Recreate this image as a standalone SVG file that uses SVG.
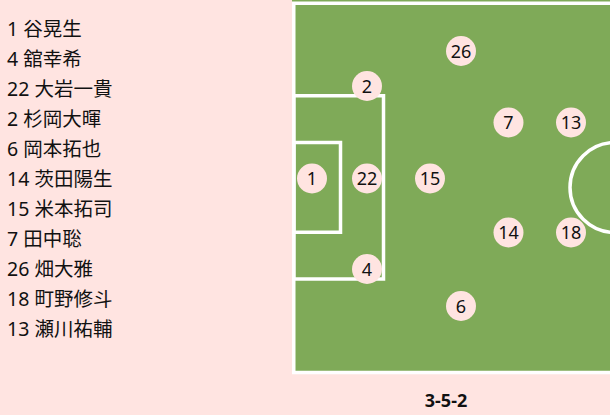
<svg xmlns="http://www.w3.org/2000/svg" width="610" height="415" viewBox="0 0 610 415">
<style>
.bg{fill:#ffe4e1}
.pitch{fill:#7faa58}
.line{fill:none;stroke:#ffffff;stroke-width:3.5}
.lst{font-family:"Noto Sans","Noto Sans CJK JP",sans-serif;font-size:19.5px;fill:#111}
.p circle{fill:#ffe4e1}
.p text{font-family:"Noto Sans","Noto Sans CJK JP",sans-serif;font-size:18px;fill:#111;text-anchor:middle}
.title{font-family:"Noto Sans","Noto Sans CJK JP",sans-serif;font-size:18px;font-weight:bold;fill:#111;text-anchor:middle}
</style>
<rect class="bg" x="0" y="0" width="610" height="415"/>
<g id="list">
<text class="lst" x="7" y="36">1 谷晃生</text>
<text class="lst" x="7" y="66">4 舘幸希</text>
<text class="lst" x="7" y="96">22 大岩一貴</text>
<text class="lst" x="7" y="126">2 杉岡大暉</text>
<text class="lst" x="7" y="156">6 岡本拓也</text>
<text class="lst" x="7" y="186">14 茨田陽生</text>
<text class="lst" x="7" y="216">15 米本拓司</text>
<text class="lst" x="7" y="246">7 田中聡</text>
<text class="lst" x="7" y="276">26 畑大雅</text>
<text class="lst" x="7" y="306">18 町野修斗</text>
<text class="lst" x="7" y="336">13 瀬川祐輔</text>
</g>
<g id="pitch">
<rect class="pitch" x="292" y="0" width="330" height="374"/>
<rect class="line" x="293.75" y="3.25" width="340" height="369.25"/>
<rect class="line" x="293.75" y="95.75" width="89.75" height="183.25"/>
<rect class="line" x="293.75" y="142.5" width="46.75" height="89.75"/>
<circle class="line" cx="615" cy="187.5" r="45"/>
</g>
<g id="connectors"></g>
<g id="p1" class="p"><circle cx="312" cy="178.5" r="15"/><text x="312" y="185">1</text></g>
<g id="p22" class="p"><circle cx="367" cy="178.5" r="15"/><text x="367" y="185">22</text></g>
<g id="p15" class="p"><circle cx="430" cy="178.5" r="15"/><text x="430" y="185">15</text></g>
<g id="p2" class="p"><circle cx="367" cy="86" r="15"/><text x="367" y="92.5">2</text></g>
<g id="p4" class="p"><circle cx="367" cy="269" r="15"/><text x="367" y="275.5">4</text></g>
<g id="p26" class="p"><circle cx="461" cy="51" r="15"/><text x="461" y="57.5">26</text></g>
<g id="p6" class="p"><circle cx="461" cy="306" r="15"/><text x="461" y="312.5">6</text></g>
<g id="p7" class="p"><circle cx="508.5" cy="122.5" r="15"/><text x="508.5" y="129">7</text></g>
<g id="p13" class="p"><circle cx="571" cy="122.5" r="15"/><text x="571" y="129">13</text></g>
<g id="p14" class="p"><circle cx="508.5" cy="232.5" r="15"/><text x="508.5" y="239">14</text></g>
<g id="p18" class="p"><circle cx="571" cy="232.5" r="15"/><text x="571" y="239">18</text></g>
<text class="title" x="446" y="406.5">3-5-2</text>
</svg>
